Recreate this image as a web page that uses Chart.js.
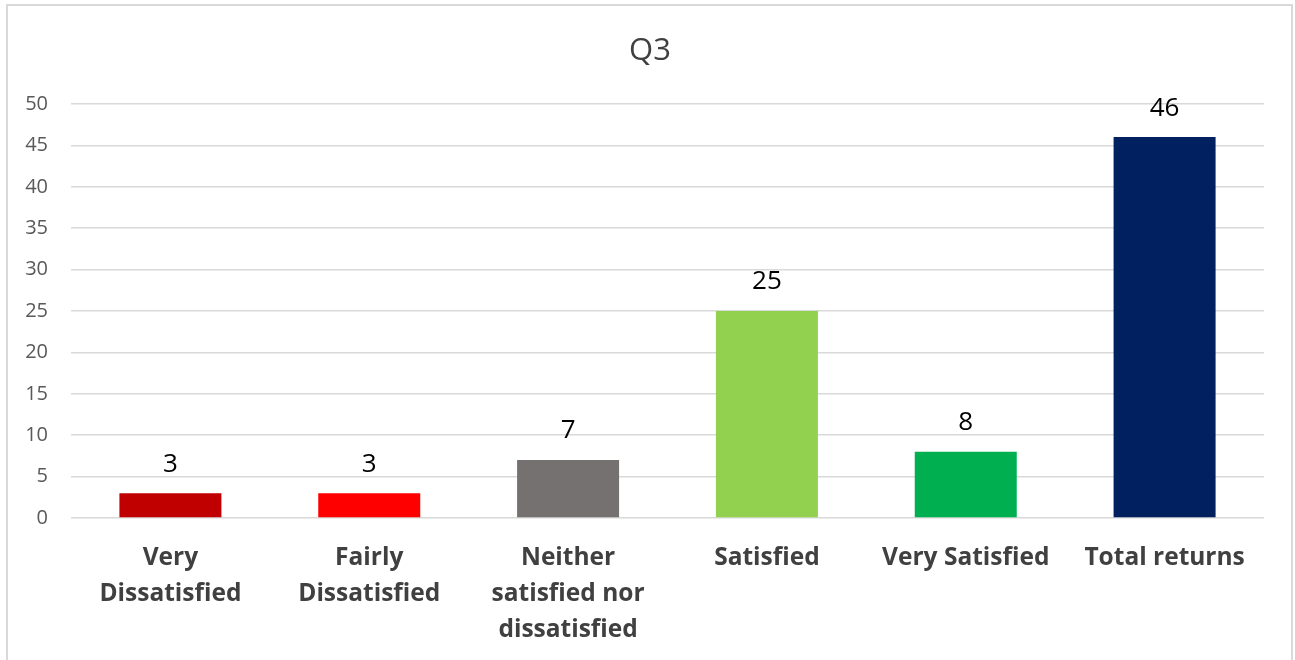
<!DOCTYPE html>
<html>
<head>
<meta charset="utf-8">
<script src="https://cdn.jsdelivr.net/npm/chart.js@4.4.1/dist/chart.umd.min.js"></script>
<style>
  html, body { margin: 0; padding: 0; background: #fff; overflow: hidden; }
  #wrap { position: relative; width: 1295px; height: 660px; }
  #frame { position: absolute; left: 6px; top: 4px; width: 1287px; height: 700px; border: 2px solid #d9d9d9; box-sizing: border-box; }
  canvas { position: absolute; left: 0; top: 0; }
</style>
</head>
<body>
<div id="wrap">
  <div id="frame"></div>
  <canvas id="chart" width="1295" height="660"></canvas>
</div>
<script>
const title = 'Q3';
const categories = [
  ['Very', 'Dissatisfied'],
  ['Fairly', 'Dissatisfied'],
  ['Neither', 'satisfied nor', 'dissatisfied'],
  'Satisfied',
  'Very Satisfied',
  'Total returns'
];
const counts = [3, 3, 7, 25, 8, 46];
const barColors = ['#C00000', '#FF0000', '#767171', '#92D050', '#00B050', '#002060'];
const yTicks = [0, 5, 10, 15, 20, 25, 30, 35, 40, 45, 50];

const FONT = "'Open Sans', 'DejaVu Sans', sans-serif";

// title centred on the whole frame, not just the plot
const frameTitle = {
  id: 'frameTitle',
  afterDraw(chart) {
    const { ctx } = chart;
    ctx.save();
    ctx.font = '31px ' + FONT;
    ctx.fillStyle = '#404040';
    ctx.textAlign = 'center';
    ctx.textBaseline = 'middle';
    ctx.fillText(title, 650, 51);
    ctx.restore();
  }
};

// value labels above each bar
const valueLabels = {
  id: 'valueLabels',
  afterDatasetsDraw(chart) {
    const { ctx } = chart;
    const meta = chart.getDatasetMeta(0);
    ctx.save();
    ctx.font = '26px ' + FONT;
    ctx.fillStyle = '#000';
    ctx.textAlign = 'center';
    ctx.textBaseline = 'middle';
    meta.data.forEach((bar, i) => {
      ctx.fillText(String(counts[i]), bar.x, bar.y - 29);
    });
    ctx.restore();
  }
};

new Chart(document.getElementById('chart'), {
  type: 'bar',
  data: {
    labels: categories,
    datasets: [{
      data: counts,
      backgroundColor: barColors,
      borderWidth: 0,
      barPercentage: 0.513,
      categoryPercentage: 1
    }]
  },
  options: {
    responsive: false,
    animation: false,
    layout: { padding: { left: 0, right: 31, top: 104, bottom: 0 } },
    plugins: {
      legend: { display: false },
      tooltip: { enabled: false },
      title: { display: false }
    },
    scales: {
      x: {
        afterFit: s => { s.height = 142; },
        grid: { display: false },
        border: { display: false },
        ticks: {
          color: '#404040',
          padding: 14,
          maxRotation: 0,
          autoSkip: false,
          font: { family: FONT, size: 24.5, weight: 'bold', lineHeight: 1.47 }
        }
      },
      y: {
        min: 0,
        max: 50,
        afterFit: s => { s.width = 71; },
        afterBuildTicks: s => { s.ticks = yTicks.map(v => ({ value: v })); },
        grid: { color: '#d9d9d9', lineWidth: 1.5, drawTicks: false },
        border: { display: false },
        ticks: {
          color: '#595959',
          padding: 23,
          font: { family: FONT, size: 20 }
        }
      }
    }
  },
  plugins: [valueLabels, frameTitle]
});
</script>
</body>
</html>
